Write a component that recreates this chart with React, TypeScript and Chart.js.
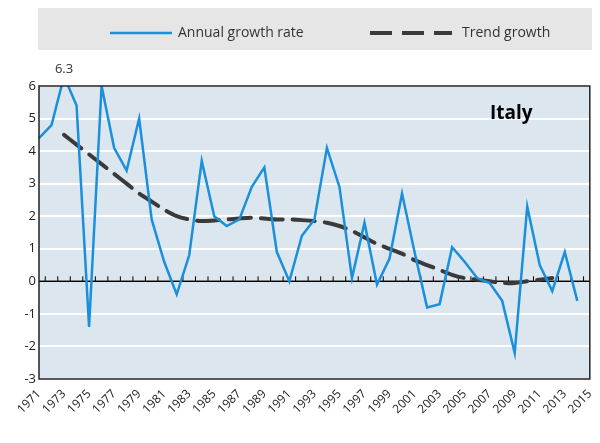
import React, { useEffect, useRef } from "react";
import { Chart, registerables } from "chart.js";
Chart.register(...registerables);

const years = Array.from({ length: 45 }, (_, i) => String(1971 + i));
const annual: (number | null)[] = [
  4.4, 4.8, 6.3, 5.4, -1.4, 6.0, 4.1, 3.4, 5.0, 1.9, 0.6, -0.4, 0.8, 3.7, 2.0, 1.7, 1.9, 2.9, 3.5, 0.9,
  0.0, 1.4, 1.9, 4.1, 2.9, 0.1, 1.8, -0.1, 0.7, 2.7, 0.9, -0.8, -0.7, 1.05, 0.6, 0.1, -0.05, -0.6, -2.2, 2.3,
  0.5, -0.3, 0.9, -0.6, null,
];
const trend: (number | null)[] = [
  null, null, 4.5, 4.2, 3.9, 3.6, 3.3, 3.0, 2.7, 2.45, 2.2, 2.0, 1.9, 1.85, 1.87, 1.9, 1.93, 1.95, 1.93, 1.9,
  1.9, 1.88, 1.85, 1.8, 1.7, 1.55, 1.35, 1.15, 1.0, 0.85, 0.65, 0.5, 0.35, 0.2, 0.1, 0.05, 0.0, -0.05, -0.05, 0.0,
  0.05, 0.1, null, null, null,
];
const seriesNames = ["Annual growth rate", "Trend growth"];
const peakLabel = "6.3";
const peakIndex = 2;
const countryLabel = "Italy";
const FONT = "'Open Sans', sans-serif";

export default function App() {
  const ref = useRef<HTMLCanvasElement>(null);
  useEffect(() => {
    document.body.style.margin = "0";
    const deco = {
      id: "deco",
      beforeDatasetsDraw(chart: any) {
        const { ctx, chartArea: a, scales } = chart;
        ctx.save();
        ctx.fillStyle = "#e6e6e6";
        ctx.fillRect(38, 8, 554, 42);
        const items = [
          { x: 110, w: 62, color: "#1a8fdc", dash: [] as number[], lw: 2.5, text: seriesNames[0], gap: 6 },
          { x: 370, w: 82, color: "#3a3a3a", dash: [22, 10], lw: 4, text: seriesNames[1], gap: 10 },
        ];
        items.forEach((it) => {
          ctx.beginPath();
          ctx.strokeStyle = it.color;
          ctx.lineWidth = it.lw;
          ctx.setLineDash(it.dash);
          ctx.moveTo(it.x, 33);
          ctx.lineTo(it.x + it.w, 33);
          ctx.stroke();
          ctx.setLineDash([]);
          ctx.fillStyle = "#333";
          ctx.font = `14px ${FONT}`;
          ctx.textBaseline = "middle";
          ctx.fillText(it.text, it.x + it.w + it.gap, 33);
        });
        const y0 = scales.y.getPixelForValue(0);
        ctx.strokeStyle = "#000";
        ctx.lineWidth = 1.5;
        ctx.beginPath();
        ctx.moveTo(a.left, y0);
        ctx.lineTo(a.right, y0);
        ctx.stroke();
        ctx.lineWidth = 1;
        const half = (scales.x.getPixelForValue(1) - scales.x.getPixelForValue(0)) / 2;
        for (let i = 0; i < years.length; i++) {
          const x = scales.x.getPixelForValue(i) + half;
          if (x >= a.right - 1) continue;
          ctx.beginPath();
          ctx.moveTo(x, y0);
          ctx.lineTo(x, y0 - 5);
          ctx.stroke();
        }
        ctx.restore();
      },
      afterDraw(chart: any) {
        const { ctx, chartArea: a, scales } = chart;
        ctx.save();
        ctx.strokeStyle = "#222";
        ctx.lineWidth = 1.5;
        ctx.strokeRect(a.left, a.top, a.right - a.left, a.bottom - a.top);
        ctx.fillStyle = "#000";
        ctx.font = `bold 19px ${FONT}`;
        ctx.textBaseline = "middle";
        ctx.fillText(countryLabel, 490, 114);
        ctx.fillStyle = "#333";
        ctx.font = `13px ${FONT}`;
        ctx.textAlign = "center";
        ctx.fillText(peakLabel, scales.x.getPixelForValue(peakIndex), a.top - 17);
        ctx.restore();
      },
    };
    const chart = new Chart(ref.current!, {
      type: "line",
      data: {
        labels: years,
        datasets: [
          { label: seriesNames[0], data: annual, borderColor: "#1a8fdc", borderWidth: 2.5, pointRadius: 0, tension: 0 },
          {
            label: seriesNames[1], data: trend, borderColor: "#3a3a3a", borderWidth: 4, borderDash: [22, 10],
            borderCapStyle: "round", pointRadius: 0, tension: 0.3,
          },
        ],
      },
      options: {
        animation: false,
        responsive: false,
        layout: { padding: { top: 86, right: 7 } },
        plugins: { legend: { display: false }, tooltip: { enabled: false } },
        scales: {
          x: {
            offset: false,
            grid: { display: false },
            border: { display: false },
            ticks: {
              autoSkip: false, minRotation: 45, maxRotation: 45, color: "#222", padding: 0,
              font: { family: FONT, size: 12 },
              callback: (_v: any, i: number) => (i % 2 === 0 ? years[i] : ""),
            },
            afterFit: (s: any) => { s.height = 64; },
          },
          y: {
            min: -3, max: 6,
            ticks: { stepSize: 1, color: "#222", font: { family: FONT, size: 13 } },
            grid: { color: "#ffffff", lineWidth: 2, drawTicks: false },
            border: { display: false },
            afterFit: (s: any) => { s.width = 39; },
          },
        },
      },
      plugins: [
        {
          id: "bg",
          beforeDraw(chart: any) {
            const { ctx, chartArea: a } = chart;
            ctx.save();
            ctx.fillStyle = "#dce6ee";
            ctx.fillRect(a.left, a.top, a.right - a.left, a.bottom - a.top);
            ctx.restore();
          },
        },
        deco,
      ],
    } as any);
    return () => chart.destroy();
  }, []);
  return <canvas ref={ref} width={600} height={443} style={{ display: "block" }} />;
}
